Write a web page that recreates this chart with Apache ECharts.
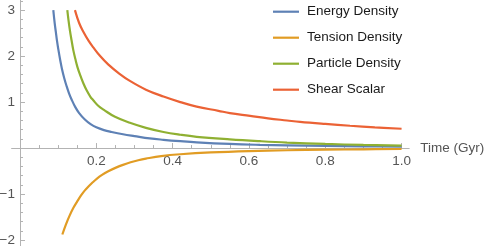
<!DOCTYPE html>
<html>
<head>
<meta charset="utf-8">
<script src="https://cdn.jsdelivr.net/npm/echarts@6/dist/echarts.min.js"></script>
<style>
html,body{margin:0;padding:0;background:#fff;}
#chart{width:484px;height:246px;}
</style>
</head>
<body>
<div id="chart"></div>
<script>
// ---- data ----
const seriesNames = ['Energy Density', 'Tension Density', 'Particle Density', 'Shear Scalar'];
const energyDensity = [
  [0.0873, 3.0], [0.091, 2.71], [0.094, 2.52], [0.097, 2.33], [0.1004, 2.15], [0.105, 1.93],
  [0.11, 1.72], [0.116, 1.52], [0.122, 1.35], [0.1285, 1.19], [0.1355, 1.05], [0.145, 0.89],
  [0.155, 0.76], [0.17, 0.62], [0.185, 0.52], [0.2, 0.45], [0.22, 0.39], [0.24, 0.35],
  [0.27, 0.30], [0.3, 0.26], [0.34, 0.21], [0.376, 0.18], [0.42, 0.15], [0.463, 0.125],
  [0.55, 0.09], [0.629, 0.07], [0.7, 0.058], [0.8, 0.046], [0.9, 0.037], [1.0, 0.03]
];
const tensionDensity = [
  [0.111, -1.88], [0.12, -1.67], [0.13, -1.47], [0.14, -1.30], [0.15, -1.16], [0.16, -1.03],
  [0.17, -0.92], [0.18, -0.83], [0.19, -0.75], [0.201, -0.67], [0.215, -0.585], [0.23, -0.51],
  [0.253, -0.42], [0.27, -0.365], [0.29, -0.31], [0.31, -0.265], [0.33, -0.23], [0.37, -0.175],
  [0.42, -0.135], [0.5, -0.095], [0.6, -0.065], [0.7, -0.048], [0.8, -0.036], [0.9, -0.027], [1.0, -0.02]
];
const particleDensity = [
  [0.124, 3.0], [0.127, 2.79], [0.131, 2.55], [0.135, 2.35], [0.1397, 2.13], [0.145, 1.94],
  [0.151, 1.75], [0.158, 1.58], [0.166, 1.41], [0.175, 1.25], [0.185, 1.11], [0.192, 1.04],
  [0.205, 0.92], [0.22, 0.83], [0.249, 0.68], [0.288, 0.55], [0.33, 0.44], [0.376, 0.35],
  [0.42, 0.29], [0.463, 0.245], [0.55, 0.19], [0.629, 0.15], [0.7, 0.12], [0.8, 0.09],
  [0.9, 0.068], [1.0, 0.052]
];
const shearScalar = [
  [0.144, 3.0], [0.155, 2.72], [0.166, 2.53], [0.18, 2.33], [0.192, 2.19], [0.21, 2.0],
  [0.231, 1.82], [0.26, 1.62], [0.288, 1.46], [0.33, 1.27], [0.376, 1.12], [0.42, 1.0],
  [0.463, 0.9], [0.52, 0.81], [0.55, 0.76], [0.603, 0.7], [0.65, 0.645], [0.7, 0.6],
  [0.734, 0.57], [0.8, 0.525], [0.865, 0.485], [0.93, 0.45], [1.0, 0.42]
];
const xMajorTicks = [0.2, 0.4, 0.6, 0.8, 1.0];
const xMinorTicks = [0.05, 0.1, 0.15, 0.25, 0.3, 0.35, 0.45, 0.5, 0.55, 0.65, 0.7, 0.75, 0.85, 0.9, 0.95];
const yUpperMajorTicks = [1, 2, 3];
const yUpperMinorTicks = [0.2, 0.4, 0.6, 0.8, 1.2, 1.4, 1.6, 1.8, 2.2, 2.4, 2.6, 2.8, 3.2];
const yLowerMajorTicks = [-2, -1];
const yLowerMinorTicks = [-1.8, -1.6, -1.4, -1.2, -0.8, -0.6, -0.4, -0.2];
const xAxisName = 'Time (Gyr)';

// ---- styling / layout ----
const colors = ['#5E81B5', '#E19C24', '#8FB032', '#EB6235'];
const FONT = '"Liberation Sans", Arial, sans-serif';
const axisColor = '#b3b3b3';
const labelColor = '#555555';
const xMin = -0.022, xMax = 1.02, yMin = -2.13, yMax = 3.22;
const H = 246, gridLeft = 11.6, gridWidth = 397.6;
const zeroPx = H * yMax / (yMax - yMin);            // pixel row of y = 0
const yAxisOffset = -gridWidth * (0 - xMin) / (xMax - xMin); // move y axis to x = 0

const chart = echarts.init(document.getElementById('chart'), null, {renderer: 'canvas'});
const dataSets = [energyDensity, tensionDensity, particleDensity, shearScalar];
const inLower = [false, true, false, false];

const tickStyle = {color: axisColor, width: 1};
const labelStyle = {fontFamily: FONT, fontSize: 13.5, color: labelColor};
const minus = v => String(v).replace('-', '\u2212');

function yAxisPair(gridIndex, min, max, major, minor) {
  return [{
    gridIndex, type: 'value', min, max, position: 'left', offset: yAxisOffset,
    axisLine: {onZero: false, lineStyle: {color: axisColor, width: 1}},
    axisTick: {show: true, inside: true, length: 5, customValues: major, lineStyle: tickStyle},
    axisLabel: Object.assign({customValues: major, formatter: minus, margin: 5}, labelStyle),
    splitLine: {show: false}
  }, {
    gridIndex, type: 'value', min, max, position: 'left', offset: yAxisOffset,
    axisLine: {onZero: false, show: false},
    axisTick: {show: true, inside: true, length: 3, customValues: minor, lineStyle: tickStyle},
    axisLabel: {show: false},
    splitLine: {show: false}
  }];
}

const option = {
  animation: false,
  textStyle: {fontFamily: FONT},
  grid: [
    {left: gridLeft, top: 0, width: gridWidth, height: zeroPx, containLabel: false, outerBoundsMode: 'none'},
    {left: gridLeft, top: zeroPx, width: gridWidth, height: H - zeroPx, containLabel: false, outerBoundsMode: 'none'}
  ],
  legend: {
    data: seriesNames,
    orient: 'vertical',
    left: 273,
    top: 3.7,
    padding: 0,
    icon: 'rect',
    itemWidth: 26,
    itemHeight: 2.2,
    itemGap: 10,
    textStyle: {fontFamily: FONT, fontSize: 13.5, color: '#1a1a1a', lineHeight: 16, padding: [0, 0, 0, 3]}
  },
  xAxis: [{
    gridIndex: 0, type: 'value', min: xMin, max: xMax, position: 'bottom',
    name: xAxisName, nameLocation: 'end', nameGap: 11,
    nameTextStyle: Object.assign({verticalAlign: 'middle', align: 'left'}, labelStyle),
    axisLine: {onZero: false, lineStyle: {color: axisColor, width: 1}},
    axisTick: {show: true, inside: true, length: 5, customValues: xMajorTicks, lineStyle: tickStyle},
    axisLabel: Object.assign({customValues: xMajorTicks, formatter: v => v.toFixed(1), margin: 6}, labelStyle),
    splitLine: {show: false}
  }, {
    gridIndex: 0, type: 'value', min: xMin, max: xMax, position: 'bottom',
    axisLine: {onZero: false, show: false},
    axisTick: {show: true, inside: true, length: 3, customValues: xMinorTicks, lineStyle: tickStyle},
    axisLabel: {show: false},
    splitLine: {show: false}
  }, {
    gridIndex: 1, type: 'value', min: xMin, max: xMax, show: false
  }],
  yAxis: [
    ...yAxisPair(0, 0, yMax, yUpperMajorTicks, yUpperMinorTicks),
    ...yAxisPair(1, yMin, 0, yLowerMajorTicks, yLowerMinorTicks)
  ],
  series: seriesNames.map((name, i) => ({
    name: name,
    type: 'line',
    xAxisIndex: inLower[i] ? 2 : 0,
    yAxisIndex: inLower[i] ? 2 : 0,
    data: dataSets[i],
    smooth: 0.4,
    symbol: 'none',
    color: colors[i],
    lineStyle: {color: colors[i], width: 2.2},
    clip: true
  }))
};
chart.setOption(option);
</script>
</body>
</html>
